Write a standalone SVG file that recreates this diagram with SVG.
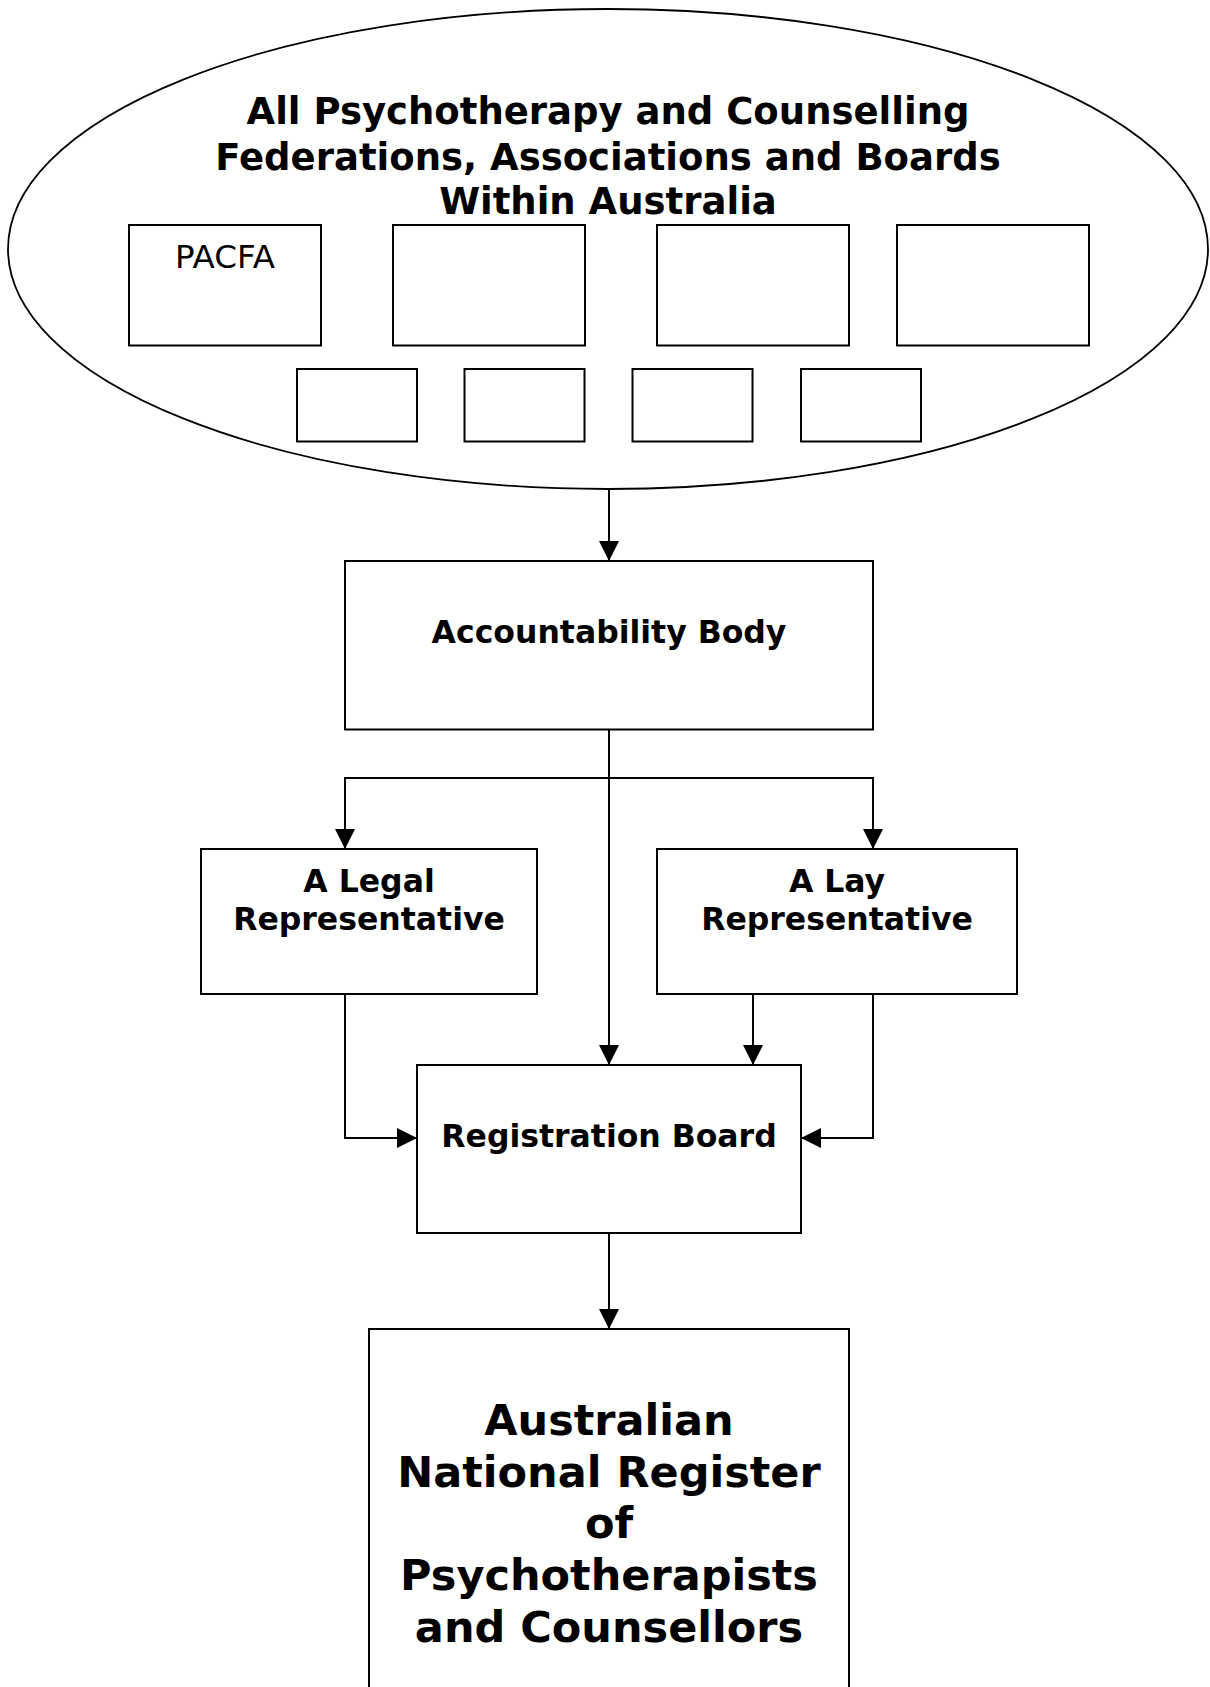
<svg xmlns="http://www.w3.org/2000/svg" width="1210" height="1687" viewBox="0 0 1210 1687">
<defs>
<style>
.box{fill:#fff;stroke:#000;stroke-width:2}
.ln{fill:none;stroke:#000;stroke-width:2}
.t{font-family:"DejaVu Sans","Verdana",sans-serif;font-weight:bold;fill:#000;text-anchor:middle}
.r{font-family:"DejaVu Sans","Verdana",sans-serif;fill:#000;text-anchor:middle}
</style>
<marker id="ah" markerWidth="20" markerHeight="20" refX="20" refY="10" orient="auto" markerUnits="userSpaceOnUse">
<path d="M0,0 L20,10 L0,20 Z" fill="#000"/>
</marker>
</defs>
<rect width="1210" height="1687" fill="#fff"/>
<g id="federations">
<ellipse cx="608" cy="249" rx="600" ry="240" fill="#fff" stroke="#000" stroke-width="1.8"/>
<text class="t" font-size="37" x="608" y="124">All Psychotherapy and Counselling</text>
<text class="t" font-size="37" x="608" y="170">Federations, Associations and Boards</text>
<text class="t" font-size="37" x="608" y="214">Within Australia</text>
</g>
<g id="pacfa"><rect class="box" x="129" y="225" width="192" height="120.5"/><text class="r" font-size="32.5" x="225" y="268">PACFA</text></g>
<g id="org2"><rect class="box" x="393" y="225" width="192" height="120.5"/></g>
<g id="org3"><rect class="box" x="657" y="225" width="192" height="120.5"/></g>
<g id="org4"><rect class="box" x="897" y="225" width="192" height="120.5"/></g>
<g id="org5"><rect class="box" x="297" y="369" width="120" height="72.5"/></g>
<g id="org6"><rect class="box" x="464.5" y="369" width="120" height="72.5"/></g>
<g id="org7"><rect class="box" x="632.5" y="369" width="120" height="72.5"/></g>
<g id="org8"><rect class="box" x="801" y="369" width="120" height="72.5"/></g>
<g id="accountability"><rect class="box" x="345" y="561" width="528" height="168.5"/><text class="t" font-size="31.5" x="609" y="643">Accountability Body</text></g>
<g id="legal"><rect class="box" x="201" y="849" width="336" height="145"/><text class="t" font-size="31.5" x="369" y="892">A Legal</text><text class="t" font-size="31.5" x="369" y="930">Representative</text></g>
<g id="lay"><rect class="box" x="657" y="849" width="360" height="145"/><text class="t" font-size="31.5" x="837" y="892">A Lay</text><text class="t" font-size="31.5" x="837" y="930">Representative</text></g>
<g id="registration"><rect class="box" x="417" y="1065" width="384" height="168"/><text class="t" font-size="31.5" x="609" y="1147">Registration Board</text></g>
<g id="register"><rect class="box" x="369" y="1329" width="480" height="400"/>
<text class="t" font-size="43" x="609" y="1435">Australian</text>
<text class="t" font-size="43" x="609" y="1487">National Register</text>
<text class="t" font-size="43" x="609" y="1538">of</text>
<text class="t" font-size="43" x="609" y="1590">Psychotherapists</text>
<text class="t" font-size="43" x="609" y="1642">and Counsellors</text>
</g>
<g id="connectors">
<line class="ln" x1="609" y1="489" x2="609" y2="561" marker-end="url(#ah)"/>
<line class="ln" x1="609" y1="729.5" x2="609" y2="1065" marker-end="url(#ah)"/>
<line class="ln" x1="344" y1="778" x2="874" y2="778"/>
<path class="ln" d="M345,777 V849" marker-end="url(#ah)"/>
<path class="ln" d="M873,777 V849" marker-end="url(#ah)"/>
<path class="ln" d="M345,994 V1138 H417" marker-end="url(#ah)"/>
<path class="ln" d="M873,994 V1138 H801" marker-end="url(#ah)"/>
<line class="ln" x1="753" y1="994" x2="753" y2="1065" marker-end="url(#ah)"/>
<line class="ln" x1="609" y1="1233" x2="609" y2="1329" marker-end="url(#ah)"/>
</g>
</svg>
